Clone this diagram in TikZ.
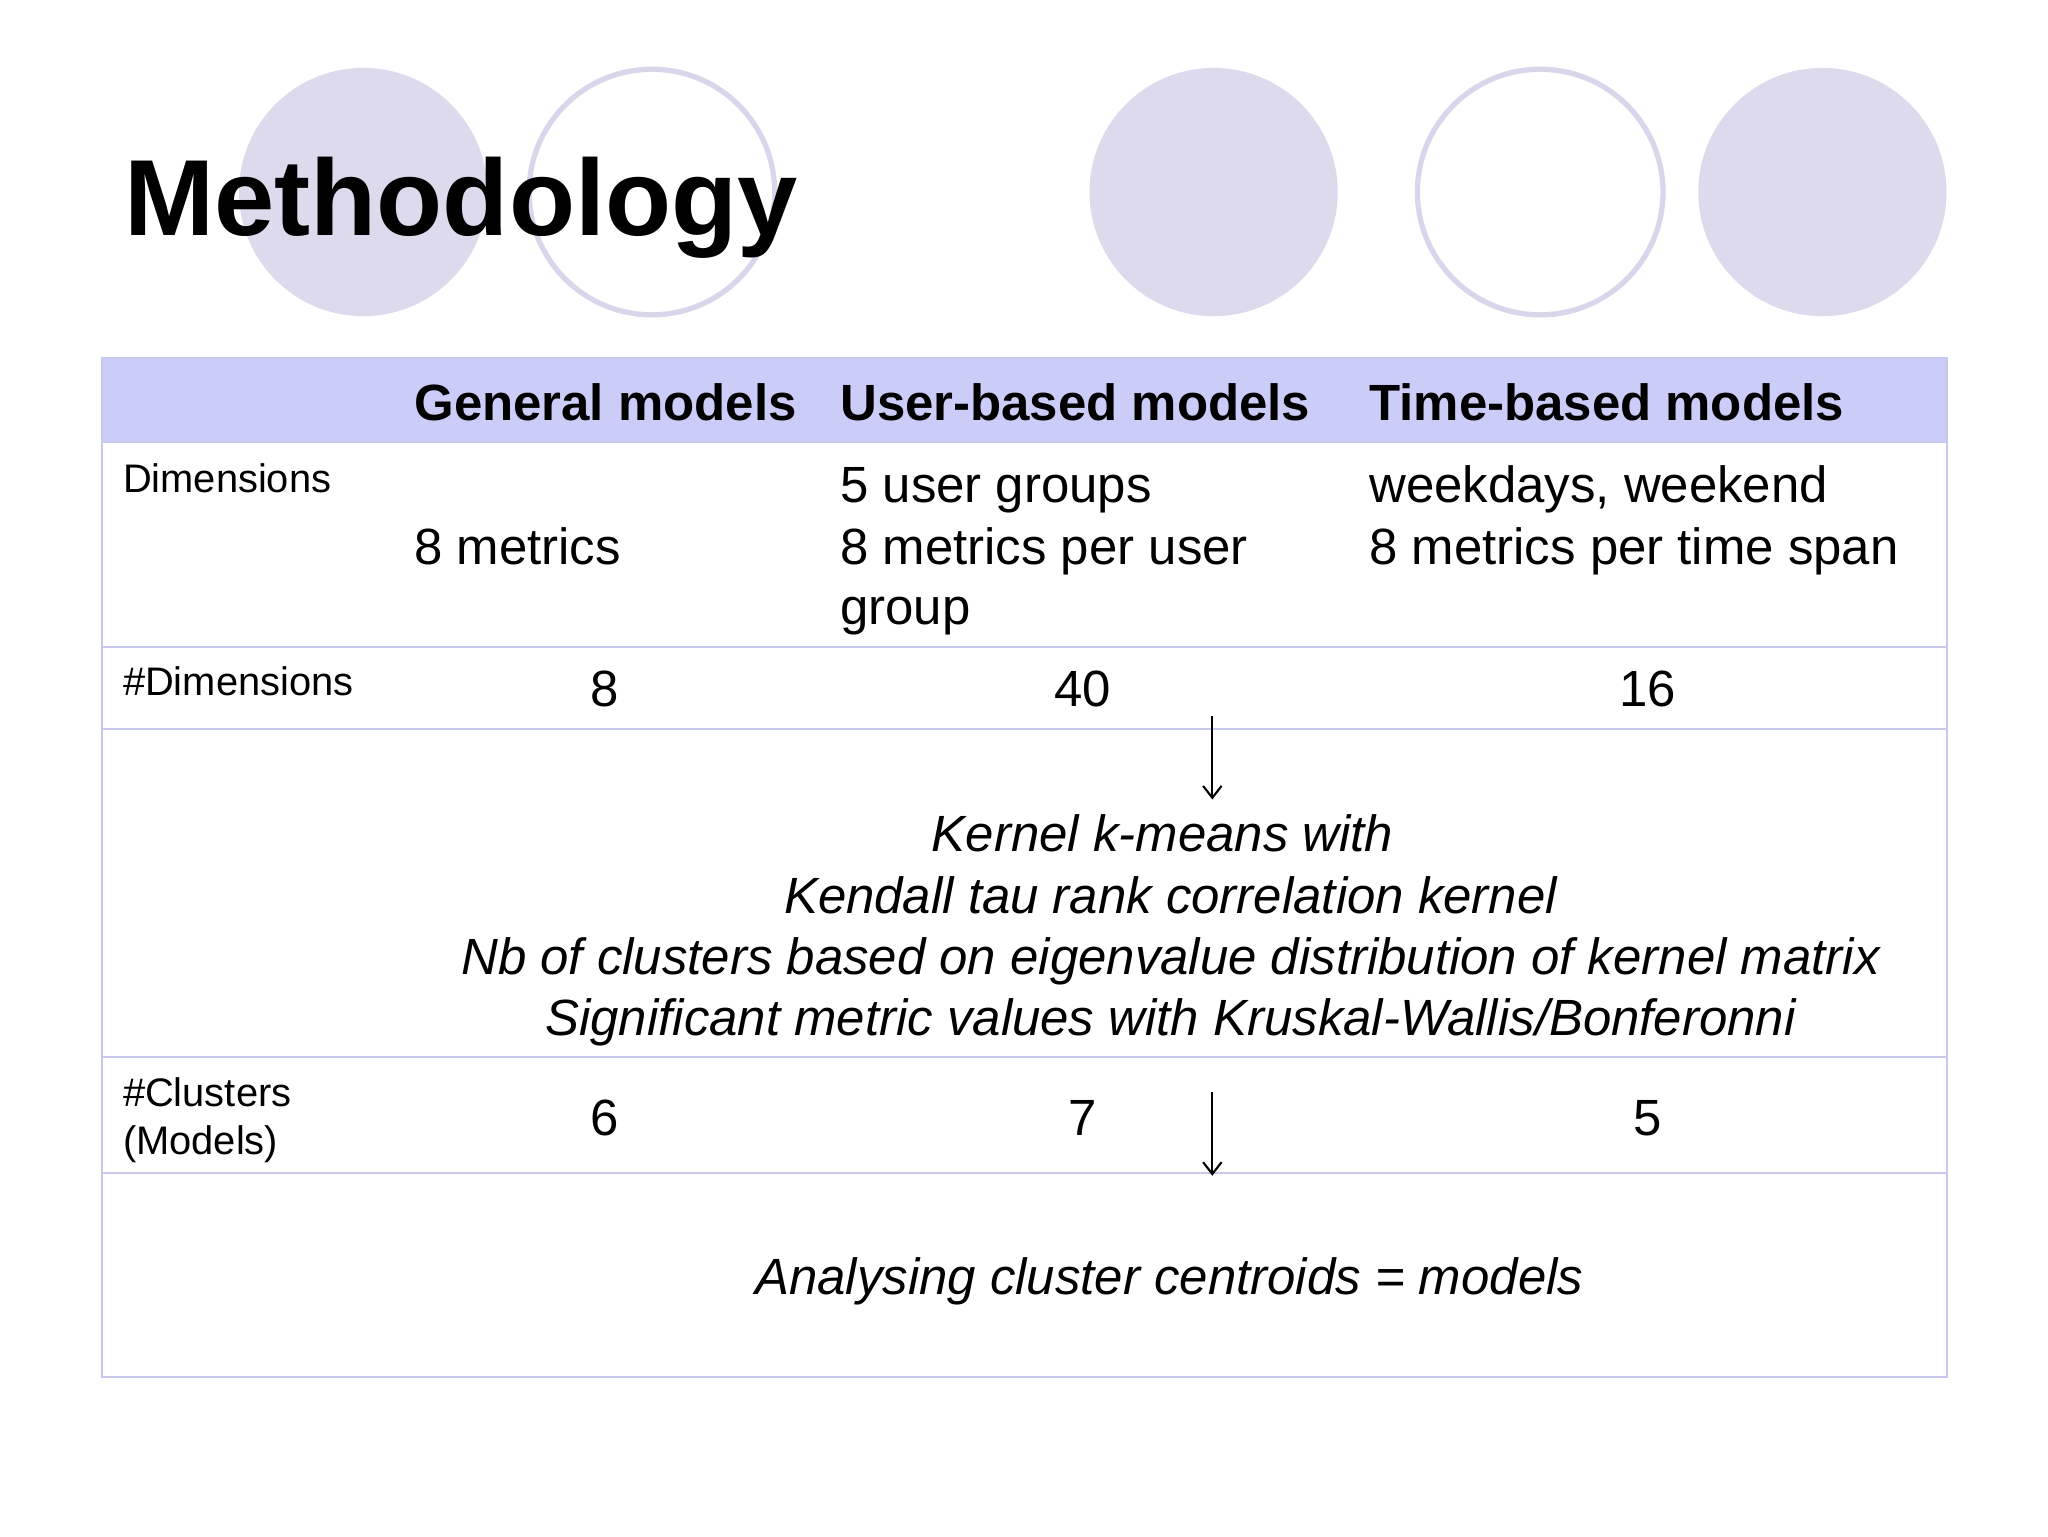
\documentclass[tikz,border=0pt]{standalone}
\usepackage{fontspec}
\setmainfont{Liberation Sans}
\usetikzlibrary{arrows.meta}
\definecolor{circf}{HTML}{DCDAEC}
\definecolor{circl}{HTML}{D8D6EA}
\definecolor{headf}{HTML}{CCCCF8}
\definecolor{gridc}{HTML}{C8C8EE}
\begin{document}
\begin{tikzpicture}[x=0.99pt,y=-0.99pt,
  body/.style={inner sep=0,font=\fontsize{38.6}{40}\selectfont},
  small/.style={inner sep=0,font=\fontsize{30.2}{32}\selectfont},
  hdr/.style={inner sep=0,font=\fontsize{38.6}{40}\selectfont\bfseries},
  ital/.style={inner sep=0,anchor=base,font=\fontsize{38.6}{40}\selectfont\itshape},
  arr/.style={-{Straight Barb[length=9pt,width=14pt]},line width=1.6pt}]
\useasboundingbox (0,0) rectangle (1567.7,1175.8);
\fill[white] (0,0) rectangle (1567.7,1175.8);
% circles
\fill[circf] (278,147) circle (95);
\fill[circf] (929,147) circle (95);
\fill[circf] (1395,147) circle (95);
\draw[circl,line width=4pt] (499,147) circle (94);
\draw[circl,line width=4pt] (1179,147) circle (94);
\node[inner sep=0,anchor=base west,font=\fontsize{82}{90}\selectfont\bfseries] (title) at (95,180) {Methodology};
% table
\fill[headf] (78,274) rectangle (1490,338);
\draw[gridc,line width=1.5pt] (78,274) rectangle (1490,1054);
\foreach \y in {338,495,558,809,898} \draw[gridc,line width=1.5pt] (78,\y) -- (1490,\y);
\node[hdr,anchor=base west] (h1) at (317,322) {General models};
\node[hdr,anchor=base west] (h2) at (643,322) {User-based models};
\node[hdr,anchor=base west] (h3) at (1048,322) {Time-based models};
\node[small,anchor=base west] (l1) at (94,377) {Dimensions};
\node[body,anchor=base west] (d1) at (317,432) {8 metrics};
\node[body,anchor=base west] (d2a) at (643,385) {5 user groups};
\node[body,anchor=base west] (d2b) at (643,432) {8 metrics per user};
\node[body,anchor=base west] (d2c) at (643,478) {group};
\node[body,anchor=base west] (d3a) at (1048,385) {weekdays, weekend};
\node[body,anchor=base west] (d3b) at (1048,432) {8 metrics per time span};
\node[small,anchor=base west] (l2) at (94,532) {\#Dimensions};
\node[body,anchor=base] (n1) at (463,541) {8};
\node[body,anchor=base] (n2) at (829,541) {40};
\node[body,anchor=base] (n3) at (1261,541) {16};
\coordinate (a1s) at (928,548);
\coordinate (a1e) at (928,612);
\draw[arr] (a1s) -- (a1e);
\node[ital] (k1) at (890,652) {Kernel k-means with};
\node[ital] (k2) at (896,699) {Kendall tau rank correlation kernel};
\node[ital] (k3) at (896,746) {Nb of clusters based on eigenvalue distribution of kernel matrix};
\node[ital] (k4) at (896,793) {Significant metric values with Kruskal-Wallis/Bonferonni};
\node[small,anchor=base west] (l3) at (94,847) {\#Clusters};
\node[small,anchor=base west] (l3b) at (94,884) {(Models)};
\node[body,anchor=base] (c1) at (463,869) {6};
\node[body,anchor=base] (c2) at (829,869) {7};
\node[body,anchor=base] (c3) at (1261,869) {5};
\coordinate (a2s) at (928,836);
\coordinate (a2e) at (928,900);
\draw[arr] (a2s) -- (a2e);
\node[ital] (an) at (895,991) {Analysing cluster centroids = models};
\end{tikzpicture}
\end{document}
